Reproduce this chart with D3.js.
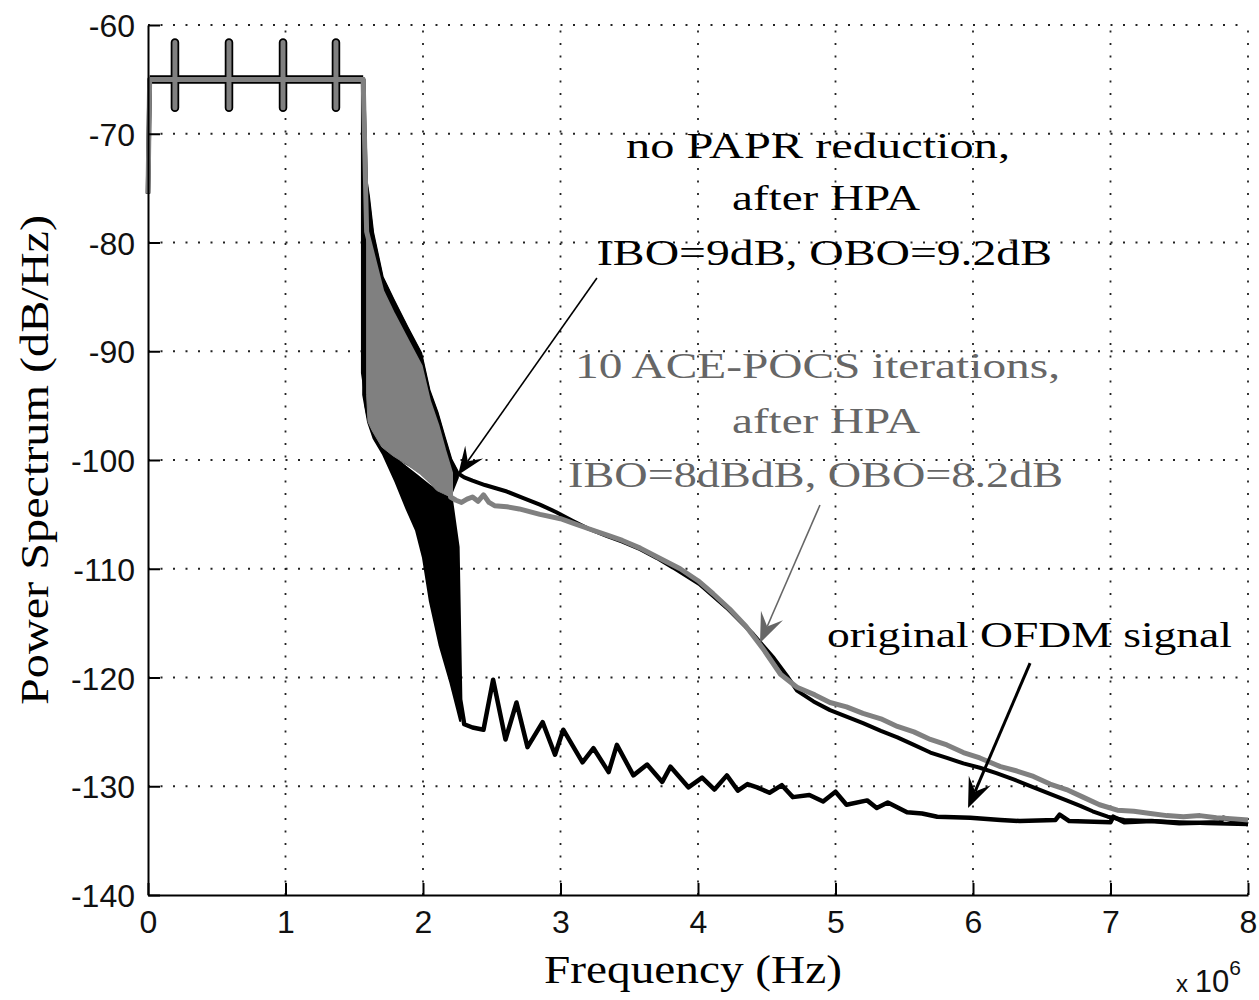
<!DOCTYPE html>
<html><head><meta charset="utf-8">
<script src="https://cdn.jsdelivr.net/npm/d3@7"></script>
<style>body{margin:0;background:#fff}svg{display:block}</style>
</head><body><svg id="c" width="1259" height="1000"></svg>
<script>
// ---------- data (frequency in units of 1e6 Hz, PSD in dB/Hz) ----------
const xTicks = [0,1,2,3,4,5,6,7,8];
const yTicks = [-60,-70,-80,-90,-100,-110,-120,-130,-140];

// in-band part shared by all three spectra (pilot spikes)
const inbandF  = [0,0.012,0.196,0.196,0.196,0.196,0.589,0.589,0.589,0.589,0.982,0.982,0.982,0.982,1.367,1.367,1.367,1.367,1.565];
const inbandDb = [-75.5,-65,-65,-61.6,-67.6,-65,-65,-61.6,-67.6,-65,-65,-61.6,-67.6,-65,-65,-61.6,-67.6,-65,-65];

// original OFDM signal
const origBandF  = [1.565,1.6,1.64,1.71,1.8,1.88,1.95,2.0,2.05,2.12,2.2,2.25,2.27];
const origBandHi = [-92,-95,-97,-98.5,-100,-100.8,-101.5,-102,-102.5,-103,-103.5,-108,-122];
const origBandLo = [-94,-96.5,-98,-99.5,-102,-104.5,-106.5,-109,-113,-117,-120.5,-123,-124];
const origTailF  = [2.3,2.36,2.44,2.51,2.60,2.68,2.76,2.87,2.96,3.02,3.16,3.24,3.35,3.41,3.53,3.63,3.74,3.80,3.93,4.03,4.12,4.21,4.29,4.36,4.43,4.52,4.61,4.69,4.81,4.91,5.00,5.08,5.23,5.30,5.38,5.52,5.63,5.74,5.98,6.2,6.34,6.6,6.63,6.7,7.0,7.02,7.1,7.3,7.5,7.8,7.82,8.0];
const origTailDb = [-124.3,-124.6,-124.8,-120.2,-125.7,-122.3,-126.4,-124.1,-127.1,-124.8,-127.8,-126.5,-128.7,-126.2,-129.0,-128.0,-129.6,-128.2,-130.1,-129.2,-130.3,-129.0,-130.4,-129.8,-130.1,-130.6,-129.9,-131.0,-130.8,-131.4,-130.5,-131.7,-131.3,-132.0,-131.5,-132.4,-132.5,-132.8,-132.9,-133.1,-133.2,-133.1,-132.6,-133.2,-133.3,-132.8,-133.3,-133.2,-133.4,-133.3,-132.9,-133.5];

// no PAPR reduction, after HPA
const hpaBandF  = [1.585,1.6,1.63,1.70,1.78,1.88,1.98,2.04,2.1,2.15,2.2,2.25];
const hpaBandHi = [-74.5,-75.8,-79.1,-83.2,-85.3,-87.8,-90.2,-93.6,-95.7,-97.9,-100,-101.2];
const hpaBandLo = [-95,-96,-97,-98.5,-99.5,-100.3,-101,-101.8,-102.5,-103,-103.2,-101.6];
const hpaTailF  = [2.25,2.3,2.36,2.45,2.53,2.61,2.73,2.85,2.97,3.09,3.2,3.34,3.45,3.58,3.7,3.82,4.01,4.21,4.40,4.55,4.65,4.72,4.84,4.96,5.08,5.2,5.33,5.45,5.57,5.69,5.81,5.93,6.05,6.17,6.3,6.44,6.56,6.68,6.78,6.87,6.98,7.1,7.3,7.5,7.7,8.0];
const hpaTailDb = [-101.2,-101.6,-101.9,-102.3,-102.6,-102.9,-103.5,-104.1,-104.8,-105.6,-106.3,-107.0,-107.5,-108.2,-109.0,-109.9,-111.4,-113.6,-116.0,-118.2,-119.9,-121.2,-122.2,-123.0,-123.6,-124.2,-124.9,-125.5,-126.2,-126.9,-127.4,-127.9,-128.3,-128.8,-129.4,-130.1,-130.7,-131.3,-131.8,-132.3,-132.8,-133.1,-133.2,-133.3,-133.4,-133.5];

// 10 ACE-POCS iterations, after HPA
const aceBandF  = [1.59,1.6,1.63,1.70,1.78,1.88,1.98,2.04,2.1,2.15,2.2];
const aceBandHi = [-79,-79.5,-81,-84.5,-86.6,-89,-91.4,-94.6,-96.8,-99.1,-101.2];
const aceBandLo = [-94,-96.5,-97.3,-98.8,-99.6,-100.4,-101.3,-102,-102.8,-103.1,-103.4];
const aceTailF  = [2.2,2.24,2.28,2.32,2.36,2.40,2.44,2.48,2.52,2.61,2.7,2.85,3.0,3.09,3.2,3.34,3.45,3.58,3.7,3.87,4.0,4.11,4.23,4.35,4.47,4.6,4.72,4.85,4.96,5.08,5.2,5.33,5.45,5.57,5.69,5.81,5.93,6.05,6.2,6.32,6.44,6.56,6.68,6.8,6.92,7.05,7.17,7.29,7.41,7.53,7.65,7.77,7.9,8.0];
const aceTailDb = [-103.4,-103.7,-103.9,-103.6,-103.4,-103.8,-103.2,-103.9,-104.2,-104.3,-104.5,-105.0,-105.4,-105.8,-106.3,-106.9,-107.4,-108.1,-108.9,-110.0,-111.1,-112.3,-113.7,-115.3,-117.3,-119.7,-120.9,-121.6,-122.3,-122.7,-123.3,-123.8,-124.5,-125.0,-125.7,-126.2,-126.9,-127.4,-128.2,-128.6,-129.1,-129.8,-130.3,-131.0,-131.7,-132.2,-132.3,-132.5,-132.7,-132.8,-132.7,-132.9,-133.0,-133.1];

// annotation texts
const noPaprText = ["no PAPR reduction,","after HPA","IBO=9dB, OBO=9.2dB"];
const aceText    = ["10 ACE-POCS iterations,","after HPA","IBO=8dBdB, OBO=8.2dB"];
const origText   = ["original OFDM signal"];

// ---------- layout ----------
const svg = d3.select("#c");
const x = d3.scaleLinear().domain([0,8]).range([148,1248]);
const y = d3.scaleLinear().domain([-140,-60]).range([895,25]);
const GRAY = "#808080", TGRAY = "#666666";
const SERIF = "'Liberation Serif','Times New Roman',serif";
const SANS = "'Liberation Sans',Arial,sans-serif";

const zip = (a,b) => a.map((v,i)=>[v,b[i]]);

// grid
const grid = svg.append("g").attr("stroke","#222").attr("stroke-width",1.8).attr("stroke-dasharray","2,10.5");
xTicks.filter(t=>t>0).forEach(t=>grid.append("line").attr("x1",x(t)).attr("x2",x(t)).attr("y1",y(-140)).attr("y2",y(-60)));
yTicks.filter(t=>t>-140).forEach(t=>grid.append("line").attr("x1",x(0)).attr("x2",x(8)).attr("y1",y(t)).attr("y2",y(t)));

// series
const line = d3.line().x(d=>x(d[0])).y(d=>y(d[1]));
const area = d3.area().x(d=>x(d[0])).y0(d=>y(d[2])).y1(d=>y(d[1]));
const plot = svg.append("g").attr("fill","none").attr("stroke-linejoin","round").attr("stroke-linecap","butt");

// black in-band traces underneath (wider, so they frame the grey one)
plot.append("path").datum(zip(inbandF,inbandDb).slice(1)).attr("d",line).attr("stroke","#000").attr("stroke-width",8.5);

function series(bandF,bandHi,bandLo,tailF,tailDb,color,lw,bandStroke){
  const band = bandF.map((f,i)=>[f,bandHi[i],bandLo[i]]);
  plot.append("path").datum(band).attr("d",area).attr("fill",color).attr("stroke",color).attr("stroke-width",bandStroke);
  const pts = zip(inbandF,inbandDb).concat(band.map(d=>[d[0],d[1]])).concat(zip(tailF,tailDb));
  plot.append("path").datum(pts).attr("d",line).attr("stroke",color).attr("stroke-width",lw);
}
series(origBandF,origBandHi,origBandLo,origTailF,origTailDb,"#000",4.5,2);
series(hpaBandF,hpaBandHi,hpaBandLo,hpaTailF,hpaTailDb,"#000",4,3);
series(aceBandF,aceBandHi,aceBandLo,aceTailF,aceTailDb,GRAY,5,1);

// axes
const fmt = d => String(d);
const yAxis = d3.axisLeft(y).tickValues(yTicks).tickSizeInner(-12).tickSizeOuter(0).tickPadding(13).tickFormat(fmt);
const xAxis = d3.axisBottom(x).tickValues(xTicks).tickSizeInner(-12).tickSizeOuter(0).tickPadding(15).tickFormat(fmt);
const ga = svg.append("g").attr("transform",`translate(${x(0)},0)`).call(yAxis);
const gb = svg.append("g").attr("transform",`translate(0,${y(-140)})`).call(xAxis);
[ga,gb].forEach(g=>{
  g.selectAll(".domain").attr("stroke","#000").attr("stroke-width",2);
  g.selectAll(".tick line").attr("stroke","#000").attr("stroke-width",2);
  g.selectAll("text").attr("font-family",SANS).attr("font-size",32).attr("fill","#111");
});
ga.selectAll("text").attr("dy","0.36em");

// axis labels
svg.append("text").attr("x",693).attr("y",983).attr("text-anchor","middle")
  .attr("font-family",SERIF).attr("font-size",39).attr("textLength",298).attr("lengthAdjust","spacingAndGlyphs")
  .text("Frequency (Hz)");
svg.append("text").attr("transform","translate(48,460) rotate(-90)").attr("text-anchor","middle")
  .attr("font-family",SERIF).attr("font-size",40).attr("textLength",490).attr("lengthAdjust","spacingAndGlyphs")
  .text("Power Spectrum (dB/Hz)");
const ex = svg.append("text").attr("x",1176).attr("y",992).attr("font-family",SANS).attr("fill","#111");
ex.append("tspan").attr("font-size",24).text("x ");
ex.append("tspan").attr("font-size",31).text("10");
ex.append("tspan").attr("font-size",21).attr("dy",-17).text("6");

// annotation text blocks (anchored in data coordinates)
function block(lines, fs, baselines, widths, color){
  lines.forEach((t,i)=>{
    svg.append("text").attr("x",x(fs[i])).attr("y",y(baselines[i])).attr("text-anchor","middle")
      .attr("font-family",SERIF).attr("font-size",36).attr("fill",color)
      .attr("textLength",widths[i]).attr("lengthAdjust","spacingAndGlyphs").text(t);
  });
}
block(noPaprText,[4.873,4.931,4.92],[-72.23,-77.01,-82.07],[384,188,455],"#000");
block(aceText,[4.869,4.931,4.855],[-92.46,-97.52,-102.48],[485,188,495],TGRAY);
block(origText,[6.411],[-117.2],[405],"#000");

// arrows (from text to curve), data coordinates
function arrow(f0,d0,f1,d1,color,w,L,W){
  const sx=x(f0), sy=y(d0), tx=x(f1), ty=y(d1);
  const a=Math.atan2(ty-sy,tx-sx);
  const nx=tx-Math.cos(a)*L*0.6, ny=ty-Math.sin(a)*L*0.6;
  svg.append("line").attr("x1",sx).attr("y1",sy).attr("x2",nx).attr("y2",ny).attr("stroke",color).attr("stroke-width",w);
  svg.append("path").attr("d",`M0,0L${-L},${-W/2}L${-L*0.6},0L${-L},${W/2}Z`)
    .attr("transform",`translate(${tx},${ty}) rotate(${a*180/Math.PI})`).attr("fill",color);
}
arrow(3.265,-83.26,2.255,-101.38,"#000",1.6,28,22);
arrow(4.887,-104.14,4.451,-116.83,TGRAY,1.6,30,24);
arrow(6.415,-118.67,5.964,-132.0,"#000",3,30,24);
</script></body></html>
